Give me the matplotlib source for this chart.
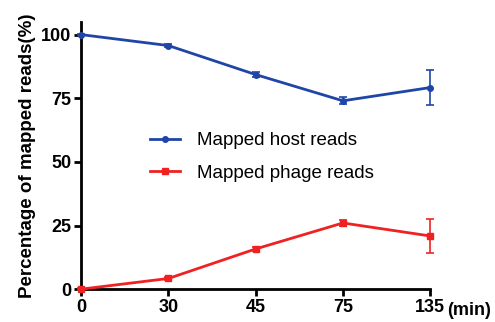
import numpy as np
import matplotlib.pyplot as plt
from matplotlib.lines import Line2D

times = ["0", "30", "45", "75", "135"]
host_mean = [100, 95.7, 84.3, 74.0, 79.2]
host_err = [0.3, 0.5, 0.9, 1.4, 6.8]
phage_mean = [0, 4.2, 15.8, 26.0, 20.9]
phage_err = [0.3, 0.5, 0.7, 1.3, 6.8]

blue = "#1f45a6"
red = "#ee2222"

plt.rcParams["font.family"] = ["Liberation Sans", "DejaVu Sans"]

fig = plt.figure(figsize=(4.95, 3.22), dpi=100)
ax = fig.add_axes([0.164, 0.102, 0.705, 0.83])

x = np.arange(len(times))
ax.errorbar(x, host_mean, yerr=host_err, color=blue, lw=2, marker="o",
            ms=4, capsize=3, capthick=1.2, elinewidth=1.2,
            clip_on=False, zorder=3)
ax.errorbar(x, phage_mean, yerr=phage_err, color=red, lw=2, marker="s",
            ms=4, capsize=3, capthick=1.2, elinewidth=1.2,
            clip_on=False, zorder=3)

ax.set_xlim(0, len(times) - 1)
ax.set_ylim(0, 105)
ax.set_xticks(x)
ax.set_xticklabels(times)
ax.set_yticks([0, 25, 50, 75, 100])
for lab in ax.get_xticklabels() + ax.get_yticklabels():
    lab.set_fontweight("bold")
    lab.set_fontsize(13)
ax.tick_params(width=2, length=5, pad=2)

for s in ["top", "right"]:
    ax.spines[s].set_visible(False)
for s in ["left", "bottom"]:
    ax.spines[s].set_linewidth(2)

ax.set_ylabel("Percentage of mapped reads(%)", fontsize=13.5, fontweight="bold",
              labelpad=4)
ax.text(1.05, -0.078, "(min)", transform=ax.transAxes, fontsize=13,
        fontweight="bold", va="center", ha="left")

handles = [
    Line2D([], [], color=blue, lw=2, marker="o", ms=4),
    Line2D([], [], color=red, lw=2, marker="s", ms=4),
]
ax.legend(handles, ["Mapped host reads", "Mapped phage reads"],
          loc="center left", bbox_to_anchor=(0.15, 0.495), frameon=False,
          fontsize=13.5, handlelength=1.6, handletextpad=0.9, labelspacing=0.82)

fig.savefig("out.png", dpi=100)
